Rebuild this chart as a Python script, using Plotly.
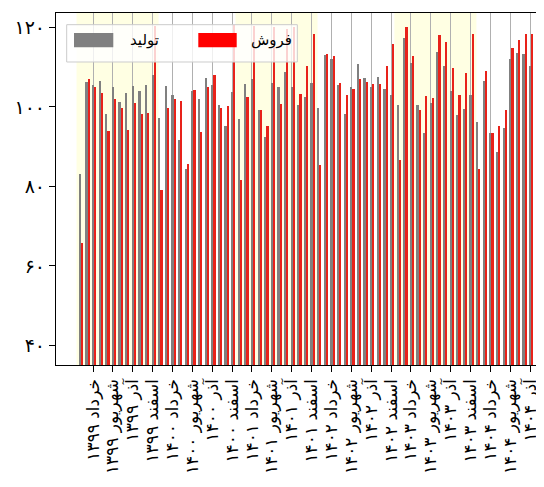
import plotly.graph_objects as go

# ---- data ----
month_names = ["فروردین", "اردیبهشت", "خرداد", "تیر", "مرداد", "شهریور",
               "مهر", "آبان", "آذر", "دی", "بهمن", "اسفند"]
years = ["۱۳۹۹", "۱۴۰۰", "۱۴۰۱", "۱۴۰۲", "۱۴۰۳", "۱۴۰۴"]
n_months = 69  # فروردین ۱۳۹۹ تا آذر ۱۴۰۴

categories = [f"{month_names[i % 12]} {years[i // 12]}" for i in range(n_months)]

production = [
    83.1, 106.2, 105.6, 106.6, 98.3, 104.9, 101.1, 103.6, 105.2, 104.0, 105.5, 108.0,
    97.2, 105.3, 103.0, 91.7, 84.4, 104.0, 102.0, 107.3, 105.6, 100.5, 95.2, 103.7,
    96.9, 105.7, 107.0, 99.1, 92.3, 106.0, 105.0, 108.8, 105.0, 100.4, 102.4, 106.1,
    99.8, 113.1, 112.0, 105.6, 98.3, 104.9, 110.8, 107.3, 105.0, 107.5, 104.6, 103.0,
    100.5, 117.2, 111.0, 100.5, 93.5, 101.0, 113.8, 110.4, 104.1, 98.0, 99.4, 103.0,
    96.2, 106.6, 93.5, 88.6, 94.7, 112.0, 113.6, 113.4, 110.2,
]
sales = [
    65.8, 107.1, 105.1, 103.6, 94.0, 102.0, 99.8, 94.2, 100.9, 98.3, 98.4, 120.3,
    79.1, 99.8, 102.0, 101.4, 85.7, 104.3, 93.7, 105.1, 108.1, 99.7, 100.3, 120.6,
    81.5, 102.4, 120.4, 99.1, 95.1, 120.2, 100.6, 119.5, 120.0, 103.3, 110.4, 118.2,
    85.4, 113.4, 112.9, 106.0, 103.0, 104.5, 107.1, 106.2, 105.7, 105.7, 110.2, 115.8,
    86.7, 120.0, 112.9, 99.3, 102.8, 102.2, 118.0, 116.3, 109.8, 103.0, 108.5, 118.2,
    84.4, 108.9, 93.4, 95.3, 99.3, 114.8, 116.9, 118.4, 118.2,
]

series_names = ["تولید", "فروش"]
y_tick_values = [40, 60, 80, 100, 120]
y_tick_labels = ["۴۰", "۶۰", "۸۰", "۱۰۰", "۱۲۰"]
shaded_years = ["۱۳۹۹", "۱۴۰۱", "۱۴۰۳"]

tick_categories = categories[2::3]

FONT = "DejaVu Sans"
GRAY = "#808080"
RED = "#ff0000"
BAR_RED = "#e8221a"

fig = go.Figure()
fig.add_trace(go.Bar(x=categories, y=production, name=series_names[0],
                     marker=dict(color=GRAY, line=dict(width=0)),
                     width=0.33, offset=-0.165, showlegend=False))
fig.add_trace(go.Bar(x=categories, y=sales, name=series_names[1],
                     marker=dict(color=BAR_RED, line=dict(width=0)),
                     width=0.33, offset=0.165, showlegend=False))

shapes = []
# shaded years
for yr in shaded_years:
    idx = [i for i, c in enumerate(categories) if c.endswith(yr)]
    shapes.append(dict(type="rect", xref="x", yref="paper",
                       x0=idx[0] - 0.5, x1=idx[-1] + 0.9, y0=0, y1=1,
                       fillcolor="rgba(255,255,0,0.11)", line=dict(width=0),
                       layer="below"))

# legend (drawn manually to match the big patches)
shapes.append(dict(type="rect", xref="paper", yref="paper",
                   x0=0.0219, x1=0.4945, y0=0.8608, y1=0.9668,
                   fillcolor="rgba(255,255,255,0.8)",
                   line=dict(color="#cccccc", width=1), layer="above"))
shapes.append(dict(type="rect", xref="paper", yref="paper",
                   x0=0.0369, x1=0.1174, y0=0.9026, y1=0.9432,
                   fillcolor=GRAY, line=dict(width=0), layer="above"))
shapes.append(dict(type="rect", xref="paper", yref="paper",
                   x0=0.2916, x1=0.3703, y0=0.9026, y1=0.9432,
                   fillcolor=RED, line=dict(width=0), layer="above"))

annotations = [
    dict(text=series_names[0], xref="paper", yref="paper", x=0.1818, y=0.9219,
         showarrow=False, xanchor="center", yanchor="middle",
         font=dict(family=FONT, size=15, color="black")),
    dict(text=series_names[1], xref="paper", yref="paper", x=0.4426, y=0.9219,
         showarrow=False, xanchor="center", yanchor="middle",
         font=dict(family=FONT, size=15, color="black")),
]

# page body has an 8px default margin; figure is sized so the plot lands
# where the reference has it inside the 544x487 window
fig.update_layout(
    width=536, height=479,
    margin=dict(l=48, r=0, t=5, b=122),
    paper_bgcolor="white", plot_bgcolor="white",
    barmode="overlay", bargap=0,
    shapes=shapes, annotations=annotations,
    font=dict(family=FONT, size=14, color="black"),
    showlegend=False,
)
fig.update_xaxes(
    type="category", range=[-3.6, 70.1],
    tickmode="array", tickvals=tick_categories, ticktext=tick_categories,
    tickangle=-90, ticks="outside", ticklen=6, tickwidth=1, tickcolor="black",
    showgrid=True, gridcolor="#b0b0b0", gridwidth=1,
    showline=True, linecolor="black", linewidth=1.3, mirror=True,
    tickfont=dict(family=FONT, size=17, color="black"),
)
fig.update_yaxes(
    range=[35.1, 123.6], tickmode="array",
    tickvals=y_tick_values, ticktext=y_tick_labels,
    ticks="outside", ticklen=6, tickwidth=1, tickcolor="black",
    showgrid=False, zeroline=False,
    showline=True, linecolor="black", linewidth=1.3, mirror=False,
    tickfont=dict(family=FONT, size=19, color="black"),
)

fig.write_html("out.html")
